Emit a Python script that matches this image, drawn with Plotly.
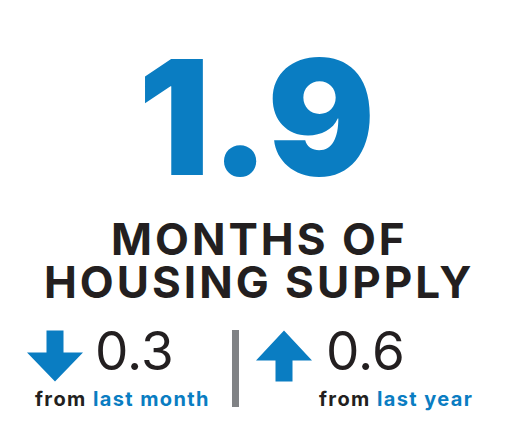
import plotly.graph_objs as go

# figure settings
WIDTH = 516
HEIGHT = 444
PAGE_MARGIN = 8  # default body margin of the html page
BLUE = "#0a7dc2"
DARK = "#231f20"
GREY = "#808285"
FONT = "Inter"

# data
KPI_VALUE = 1.9
KPI_LABEL = ["MONTHS OF", "HOUSING SUPPLY"]
CHANGE_NAMES = ["last month", "last year"]
CHANGE_VALUES = [-0.3, 0.6]

# layout positions (pixel space of the card)
KPI_Y = 117
LABEL_Y = [239, 282]
ARROW_X = [55, 284]
ARROW_Y = 356
NUMBER_X = [93, 324]
FROM_X = [122, 396]
SPLIT_Y = 385  # line between the change number and its caption


def arrow_path(cx, cy, up):
    # block arrow 56 wide, 51 tall, shaft 17 wide
    if up:
        tip, neck, base = cy - 25.5, cy + 4.5, cy + 25.5
    else:
        tip, neck, base = cy + 25.5, cy - 3.5, cy - 25.5
    pts = [(cx - 8.5, base), (cx + 8.5, base), (cx + 8.5, neck), (cx + 28, neck),
           (cx, tip), (cx - 28, neck), (cx - 8.5, neck)]
    return "M " + " L ".join(f"{x},{y}" for x, y in pts) + " Z"


fig = go.Figure()

# big number
fig.add_annotation(x=256, y=KPI_Y, text=f"{KPI_VALUE:.1f}", showarrow=False,
                   xanchor="center", yanchor="middle",
                   font=dict(family=FONT, size=160, color=BLUE, weight=900))

# label, tracked out a little
for line, y in zip(KPI_LABEL, LABEL_Y):
    fig.add_annotation(x=259, y=y, text=f"<span style='letter-spacing:3px'>{line}</span>",
                       showarrow=False, xanchor="center", yanchor="middle",
                       font=dict(family=FONT, size=44, color=DARK, weight=700))

# change indicators
for name, val, ax, nx, fx in zip(CHANGE_NAMES, CHANGE_VALUES, ARROW_X, NUMBER_X, FROM_X):
    fig.add_shape(type="path", path=arrow_path(ax, ARROW_Y, val > 0),
                  xref="x", yref="y", fillcolor=BLUE, line_width=0)
    fig.add_annotation(x=nx, y=SPLIT_Y, text=f"{abs(val):.1f}", showarrow=False,
                       xanchor="left", yanchor="bottom",
                       font=dict(family=FONT, size=53, color=DARK, weight=400))
    fig.add_annotation(x=fx, y=SPLIT_Y,
                       text=f"<span style='letter-spacing:1.4px'>from <span style='color:{BLUE}'>{name}</span></span>",
                       showarrow=False, xanchor="center", yanchor="top",
                       font=dict(family=FONT, size=20, color=DARK, weight=700))

# separator
fig.add_shape(type="rect", x0=232, x1=239, y0=330, y1=407, xref="x", yref="y",
              fillcolor=GREY, line_width=0)

fig.update_layout(width=WIDTH, height=HEIGHT, margin=dict(t=0, r=0, b=0, l=0),
                  plot_bgcolor="white", paper_bgcolor="white", showlegend=False)
fig.update_xaxes(range=[PAGE_MARGIN, WIDTH + PAGE_MARGIN], visible=False, fixedrange=True)
fig.update_yaxes(range=[HEIGHT + PAGE_MARGIN, PAGE_MARGIN], visible=False, fixedrange=True)

fig.write_html("out.html")
